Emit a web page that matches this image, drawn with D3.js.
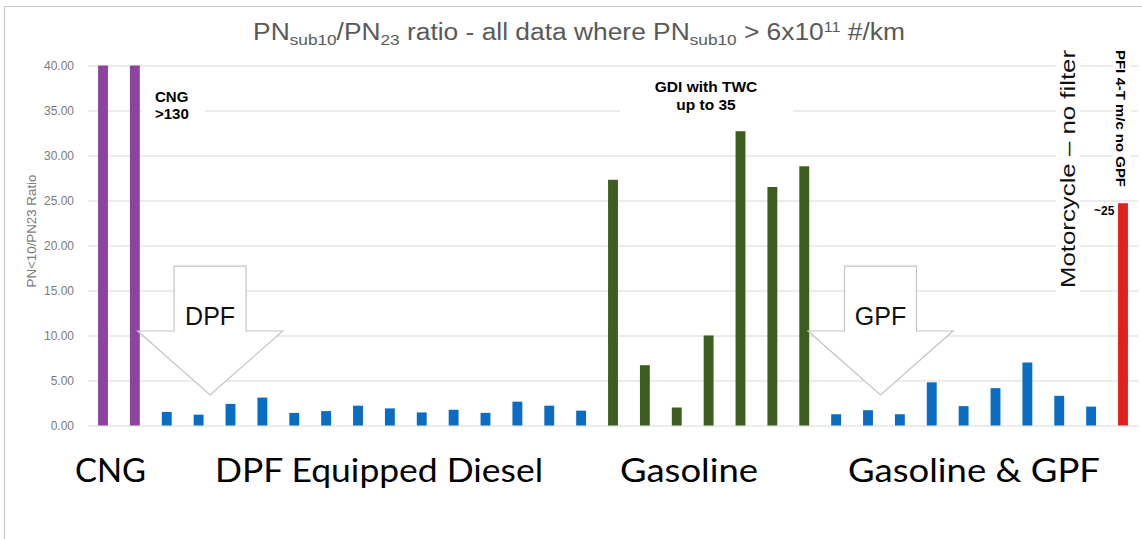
<!DOCTYPE html>
<html>
<head>
<meta charset="utf-8">
<script src="https://cdn.jsdelivr.net/npm/d3@7"></script>
<style>
  html, body { margin: 0; padding: 0; background: #ffffff; }
  svg { display: block; }
</style>
</head>
<body>
<script>
// ---------------- data ----------------
const groupNames = ["CNG", "DPF Equipped Diesel", "Gasoline", "Gasoline & GPF", "Motorcycle"];
const cngValues = [40, 40];                 // clipped at axis max (>130)
const dieselValues = [1.5, 1.2, 2.4, 3.1, 1.4, 1.6, 2.2, 1.9, 1.45, 1.75, 1.4, 2.65, 2.2, 1.65];
const gasolineValues = [27.3, 6.7, 2.0, 10.0, 32.7, 26.5, 28.8];
const gpfValues = [1.25, 1.7, 1.25, 4.8, 2.15, 4.15, 7.0, 3.3, 2.1];
const motorcycleValues = [24.7];
const yTicks = [0, 5, 10, 15, 20, 25, 30, 35, 40];
const groupColors = ["#8d44a0", "#0a6cc2", "#3e5e1d", "#0a6cc2", "#e3211c"];

const series = [cngValues, dieselValues, gasolineValues, gpfValues, motorcycleValues];
const bars = [];
series.forEach((vals, g) => vals.forEach((v, i) => bars.push({ id: g + "-" + i, group: g, value: v })));

// ---------------- layout ----------------
const W = 1142, H = 539;
const svg = d3.select("body").append("svg").attr("width", W).attr("height", H)
  .style("font-family", "'Liberation Sans', Arial, sans-serif");

const x = d3.scaleBand().domain(bars.map(d => d.id)).range([87.06, 1138.94])
  .paddingInner(0.69).paddingOuter(0.345);
const y = d3.scaleLinear().domain([0, 40]).range([425.5, 65.5]);
const bw = x.bandwidth();
const cx = id => x(id) + bw / 2;

// frame
svg.append("path").attr("d", `M4.5,${H} V6.5 H${W}`).attr("fill", "none")
  .attr("stroke", "#c9c9c9").attr("stroke-width", 1.2);

// title
function fitWidth(sel, target, anchorX) {
  const w = sel.node().getBBox().width;
  const s = target / w;
  sel.attr("transform", `translate(${anchorX},0) scale(${s},1) translate(${-anchorX},0)`);
}
const title = svg.append("text").attr("x", 579).attr("y", 40).attr("text-anchor", "middle")
  .attr("font-size", 23).attr("fill", "#595959");
title.append("tspan").text("PN");
title.append("tspan").attr("dy", 5).attr("font-size", 15).text("sub10");
title.append("tspan").attr("dy", -5).text("/PN");
title.append("tspan").attr("dy", 5).attr("font-size", 15).text("23");
title.append("tspan").attr("dy", -5).text(" ratio - all data where PN");
title.append("tspan").attr("dy", 5).attr("font-size", 15).text("sub10");
title.append("tspan").attr("dy", -5).text(" > 6x10");
title.append("tspan").attr("dy", -8).attr("font-size", 14).text("11");
title.append("tspan").attr("dy", 8).text(" #/km");
fitWidth(title, 652, 579);

// gridlines
svg.append("g").selectAll("line").data(yTicks).join("line")
  .attr("x1", 88).attr("x2", 1138)
  .attr("y1", d => y(d) + 0.5).attr("y2", d => y(d) + 0.5)
  .attr("stroke", "#d9d9d9").attr("stroke-width", 1);

// y axis labels
const yAxis = d3.axisLeft(y).tickValues(yTicks).tickFormat(d3.format(".2f")).tickSize(0).tickPadding(0);
const yg = svg.append("g").attr("transform", "translate(74,0)").call(yAxis);
yg.select(".domain").remove();
yg.selectAll("text").attr("font-size", 12).attr("fill", "#7a7a7a")
  .attr("font-family", "'Liberation Sans', Arial, sans-serif");

svg.append("text").attr("transform", "translate(36,231) rotate(-90)").attr("text-anchor", "middle")
  .attr("font-size", 12).attr("fill", "#7a7a7a").attr("textLength", 113)
  .attr("lengthAdjust", "spacingAndGlyphs").text("PN<10/PN23 Ratio");

// bars
svg.append("g").selectAll("rect").data(bars).join("rect")
  .attr("x", d => x(d.id)).attr("width", bw)
  .attr("y", d => y(d.value)).attr("height", d => y(0) - y(d.value))
  .attr("fill", d => groupColors[d.group]);

// block arrows (DPF / GPF)
function blockArrow(centerX, label) {
  const top = y(17.7), shoulder = y(10.5), tip = y(3.4);
  const sw = 36, hw = 72.5;
  const p = d3.path();
  p.moveTo(centerX - sw, top); p.lineTo(centerX + sw, top); p.lineTo(centerX + sw, shoulder);
  p.lineTo(centerX + hw, shoulder); p.lineTo(centerX, tip); p.lineTo(centerX - hw, shoulder);
  p.lineTo(centerX - sw, shoulder); p.closePath();
  svg.append("path").attr("d", p.toString()).attr("fill", "#ffffff")
    .attr("stroke", "#c4c4c4").attr("stroke-width", 1.2);
  svg.append("text").attr("x", centerX).attr("y", 325).attr("text-anchor", "middle")
    .attr("font-size", 25).attr("fill", "#111").text(label);
}
blockArrow(cx("1-1") + 11.5, "DPF");
blockArrow(cx("3-1") + 12.5, "GPF");

// annotation helpers
function whiteBox(x0, y0, x1, y1) {
  svg.append("rect").attr("x", x0).attr("y", y0).attr("width", x1 - x0).attr("height", y1 - y0).attr("fill", "#fff");
}
whiteBox(142, 86, 205, 123);
svg.append("text").attr("x", 155).attr("y", 101.5).attr("font-size", 15).attr("font-weight", "bold").text("CNG");
svg.append("text").attr("x", 155).attr("y", 119).attr("font-size", 15).attr("font-weight", "bold").text(">130");

whiteBox(620, 76, 793, 116);
svg.append("text").attr("x", 706).attr("y", 92.3).attr("text-anchor", "middle").attr("font-size", 15.5)
  .attr("font-weight", "bold").text("GDI with TWC");
svg.append("text").attr("x", 706).attr("y", 110).attr("text-anchor", "middle").attr("font-size", 15.5)
  .attr("font-weight", "bold").text("up to 35");

// motorcycle annotations
whiteBox(1056, 44, 1080, 292);
svg.append("text").attr("transform", "translate(1075,169) rotate(-90)").attr("text-anchor", "middle")
  .attr("font-size", 21).attr("textLength", 238).attr("lengthAdjust", "spacingAndGlyphs")
  .attr("fill", "#111").text("Motorcycle \u2013 no filter");
whiteBox(1113, 46, 1131, 190);
svg.append("text").attr("transform", "translate(1116,50) rotate(90)").attr("font-size", 13)
  .attr("font-weight", "bold").attr("textLength", 137).attr("lengthAdjust", "spacingAndGlyphs")
  .text("PFI 4-T m/c no GPF");
svg.append("text").attr("x", 1094).attr("y", 215).attr("font-size", 12).attr("font-weight", "bold").text("~25");

// group labels
const labelPos = [
  { text: groupNames[0], x0: 75, x1: 146 },
  { text: groupNames[1], x0: 215, x1: 543 },
  { text: groupNames[2], x0: 620, x1: 758 },
  { text: groupNames[3], x0: 848, x1: 1100 }
];
labelPos.forEach(d => {
  svg.append("text").attr("x", d.x0).attr("y", 482)
    .attr("font-family", "Lato, 'Open Sans', sans-serif").attr("font-size", 33).attr("fill", "#000")
    .attr("textLength", d.x1 - d.x0).attr("lengthAdjust", "spacingAndGlyphs").text(d.text);
});
</script>
</body>
</html>
